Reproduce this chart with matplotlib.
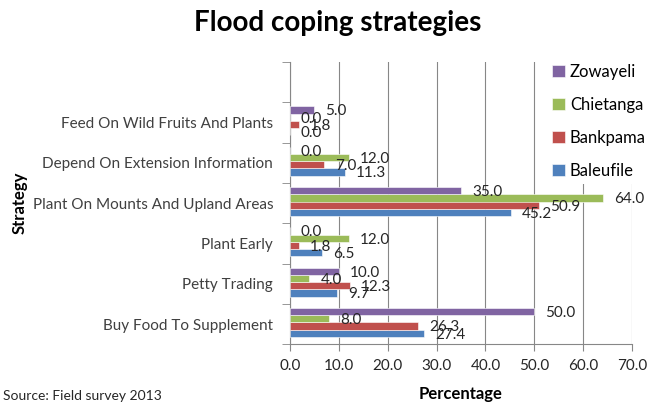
import numpy as np
import matplotlib
matplotlib.use('Agg')
import matplotlib.pyplot as plt

plt.rcParams['font.family'] = ['Lato', 'DejaVu Sans']

# Data (bottom to top)
strategies = ['Buy Food To Supplement', 'Petty Trading', 'Plant Early',
              'Plant On Mounts And Upland Areas', 'Depend On Extension Information',
              'Feed On Wild Fruits And Plants']
baleufile = [27.4, 9.7, 6.5, 45.2, 11.3, 0.0]
bankpama = [26.3, 12.3, 1.8, 50.9, 7.0, 1.8]
chietanga = [8.0, 4.0, 12.0, 64.0, 12.0, 0.0]
zowayeli = [50.0, 10.0, 0.0, 35.0, 0.0, 5.0]

series = [('Baleufile', baleufile, '#4F81BD'),
          ('Bankpama', bankpama, '#C0504D'),
          ('Chietanga', chietanga, '#9BBB59'),
          ('Zowayeli', zowayeli, '#8064A2')]

fig = plt.figure(figsize=(6.47, 4.03), dpi=100)
ax = fig.add_axes([0.448, 0.146, 0.529, 0.70])

y = np.arange(len(strategies))
h = 0.18
for i, (name, vals, col) in enumerate(series):
    pos = y + (i - 1.5) * h + 0.04
    bars = ax.barh(pos, vals, height=h, color=col, label=name,
                   edgecolor='white', linewidth=0.4, zorder=3)
    # data labels, overlapping like the original
    for p, v in zip(pos, vals):
        ax.annotate(f'{v:.1f}', (v, p), xytext=(8, -1), textcoords='offset points',
                    ha='left', va='center', fontsize=11, color='#262626', zorder=4)

ax.set_xlim(0, 70)
ax.set_ylim(-0.5, 6.5)
ax.set_xticks(np.arange(0, 71, 10))
ax.set_xticklabels([f'{t:.1f}' for t in range(0, 71, 10)], fontsize=11, color='#262626')
ax.set_yticks(y)
ax.set_yticklabels(strategies, fontsize=11, color='#404040')
ax.set_yticks(np.arange(-0.5, 7, 1), minor=True)
ax.tick_params(axis='y', which='major', length=0, pad=12)
ax.tick_params(axis='y', which='minor', length=6, color='#878787')
ax.tick_params(axis='x', length=5, color='#878787', pad=6)

ax.grid(axis='x', color='#878787', linewidth=0.8, zorder=0)
for s in ['top', 'right']:
    ax.spines[s].set_visible(False)
for s in ['left', 'bottom']:
    ax.spines[s].set_color('#878787')

ax.set_xlabel('Percentage', fontsize=12, fontweight='bold', labelpad=9)
ax.set_ylabel('Strategy', fontsize=12, fontweight='bold')
ax.yaxis.set_label_coords(-0.765, 0.5)

handles, labels = ax.get_legend_handles_labels()
leg = ax.legend(handles[::-1], labels[::-1], loc='upper left', bbox_to_anchor=(0.728, 1.04),
                frameon=True, fontsize=12, labelspacing=1.02, handlelength=0.75,
                handleheight=0.75, handletextpad=0.3, borderpad=0.3)
leg.get_frame().set_facecolor('white')
leg.get_frame().set_edgecolor('none')
leg.get_frame().set_alpha(1)
leg.set_zorder(5)

fig.suptitle('Flood coping strategies', x=0.522, y=0.975, fontsize=20, fontweight='bold')
fig.text(0.005, 0.002, 'Source: Field survey 2013', fontsize=10, va='bottom', color='#262626')

fig.savefig('out.png', dpi=100)
